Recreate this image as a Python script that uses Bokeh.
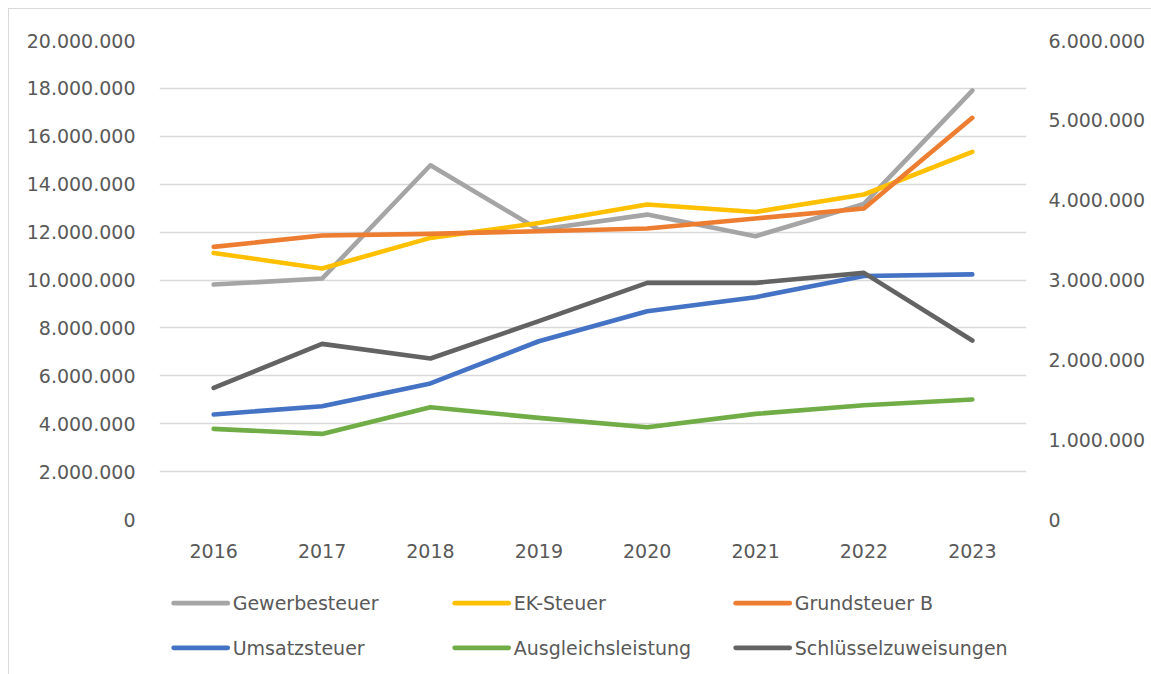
from bokeh.plotting import figure
from bokeh.layouts import column
from bokeh.models import (Range1d, FactorRange, LinearAxis, FixedTicker, CustomJSTickFormatter)
from bokeh.core.properties import value
from bokeh.embed import file_html
from bokeh.resources import INLINE

years = ["2016", "2017", "2018", "2019", "2020", "2021", "2022", "2023"]

# left axis (EUR)
gewerbesteuer = [9810000, 10060000, 14790000, 12100000, 12730000, 11830000, 13180000, 17910000]
ek_steuer = [11130000, 10480000, 11760000, 12380000, 13150000, 12840000, 13570000, 15350000]
# right axis (EUR)
grundsteuer_b = [3415000, 3557000, 3578000, 3611000, 3645000, 3771000, 3896000, 5031000]
umsatzsteuer = [1315000, 1419000, 1704000, 2233000, 2609000, 2785000, 3050000, 3070000]
ausgleichsleistung = [1135000, 1072000, 1407000, 1273000, 1156000, 1323000, 1432000, 1503000]
schluesselzuweisungen = [1648000, 2200000, 2017000, 2484000, 2964000, 2964000, 3089000, 2242000]

names = ["Gewerbesteuer", "EK-Steuer", "Grundsteuer B",
         "Umsatzsteuer", "Ausgleichsleistung", "Schlüsselzuweisungen"]
values_list = [gewerbesteuer, ek_steuer, grundsteuer_b,
               umsatzsteuer, ausgleichsleistung, schluesselzuweisungen]
colors = ["#A5A5A5", "#FFC000", "#ED7D31", "#4472C4", "#70AD47", "#636363"]
axes_used = ["default", "default", "right", "right", "right", "right"]

FONT = "DejaVu Sans"
FS = "19px"
TXT = "#595959"
W = 1143
ML, MR = 150, 126

p = figure(width=W, height=567, x_range=FactorRange(*years, range_padding=0),
           y_range=Range1d(0, 20000000), output_backend="svg", toolbar_location=None,
           min_border_left=ML, min_border_top=31, min_border_right=MR, min_border_bottom=57)
p.extra_y_ranges = {"right": Range1d(0, 6000000)}
p.outline_line_color = None
p.background_fill_color = "white"
p.border_fill_color = "white"

fmt = CustomJSTickFormatter(code="""
return Math.round(tick).toString().replace(/\\B(?=(\\d{3})+(?!\\d))/g, ".");
""")

ya = p.yaxis[0]
ya.ticker = FixedTicker(ticks=list(range(0, 20000001, 2000000)))
ya.formatter = fmt
ya.major_label_standoff = 18

ra = LinearAxis(y_range_name="right", ticker=FixedTicker(ticks=list(range(0, 6000001, 1000000))),
                formatter=fmt, major_label_standoff=16)
p.add_layout(ra, "right")

xa = p.xaxis[0]
xa.major_label_standoff = 18

for ax in [ya, ra, xa]:
    ax.axis_line_color = None
    ax.major_tick_line_color = None
    ax.minor_tick_line_color = None
    ax.major_label_text_font = FONT
    ax.major_label_text_font_size = FS
    ax.major_label_text_color = TXT

p.xgrid.grid_line_color = None
p.ygrid.grid_line_color = "#D9D9D9"
p.ygrid.grid_line_width = 1.5

for name, vals, color, rng in zip(names, values_list, colors, axes_used):
    p.line(years, vals, line_color=color, line_width=4.6, line_cap="round",
           line_join="round", y_range_name=rng)

# legend drawn as its own small figure; its frame is aligned with the main frame,
# so x is measured from the figure's left edge (range spans the frame only)
LH = 99
lg = figure(width=W, height=LH, x_range=Range1d(ML, W - MR), y_range=Range1d(LH, 0),
            output_backend="svg", toolbar_location=None,
            min_border_left=ML, min_border_right=MR, min_border_top=0, min_border_bottom=0)
lg.axis.visible = False
lg.grid.visible = False
lg.outline_line_color = None
lg.border_fill_color = "white"

col_x0 = 164.2
col_step = 281
row_y0 = 26.7
row_step = 44.6
for i, (name, color) in enumerate(zip(names, colors)):
    c, r = i % 3, i // 3
    x0 = col_x0 + c * col_step
    y0 = row_y0 + r * row_step
    lg.segment(x0=[x0], y0=[y0], x1=[x0 + 54], y1=[y0], line_color=color,
               line_width=4.8, line_cap="round")
    lg.text(x=[x0 + 59], y=[y0], text=[name], text_font=value(FONT), text_font_size=FS,
            text_color=TXT, text_baseline="middle", text_align="left")

layout = column(p, lg, spacing=0,
                styles={"margin-left": "8px", "margin-top": "8px",
                        "border-left": "1px solid #d9d9d9", "border-top": "1px solid #d9d9d9"})

open("out.html", "w").write(file_html(layout, INLINE))
